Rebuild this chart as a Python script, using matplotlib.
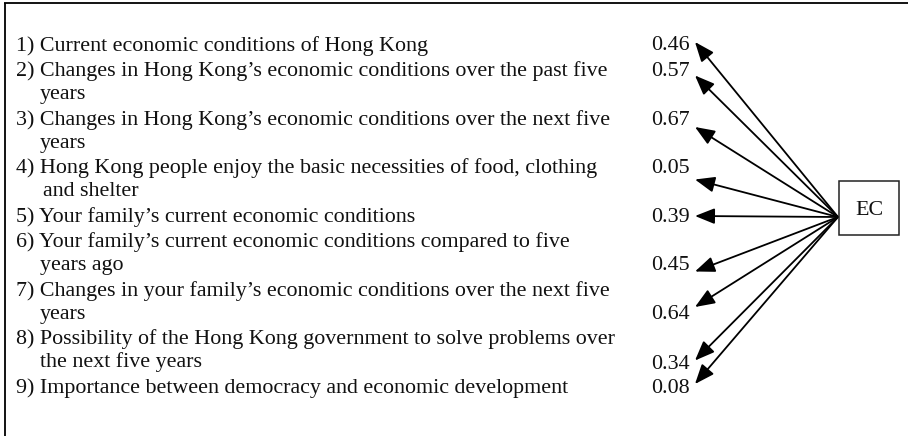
import matplotlib
matplotlib.use("Agg")
import matplotlib.pyplot as plt
from matplotlib.patches import FancyArrowPatch, Rectangle

# ---- data ----
item_lines = [
    ["1) Current economic conditions of Hong Kong"],
    ["2) Changes in Hong Kong\u2019s economic conditions over the past five", "years"],
    ["3) Changes in Hong Kong\u2019s economic conditions over the next five", "years"],
    ["4) Hong Kong people enjoy the basic necessities of food, clothing", "and shelter"],
    ["5) Your family\u2019s current economic conditions"],
    ["6) Your family\u2019s current economic conditions compared to five", "years ago"],
    ["7) Changes in your family\u2019s economic conditions over the next five", "years"],
    ["8) Possibility of the Hong Kong government to solve problems over", "the next five years"],
    ["9) Importance between democracy and economic development"],
]
loadings = [0.46, 0.57, 0.67, 0.05, 0.39, 0.45, 0.64, 0.34, 0.08]
latent = "EC"

# ---- layout (pixels) ----
W, H = 908, 436
value_line = [0, 0, 0, 0, 0, 1, 1, 1, 0]      # which text line the loading sits on
value_dy = [0, 0, 0, 0, 0, 0, 0, 2, 0]
tip_dy = [-4, 4, 7, 11, -1, 6, -7, -4, -4]
indent_x = [40, 40, 40, 43, 40, 40, 40, 40, 40]
x_text = 16
x_val = 651
x_tip = 695
y0, line_h, item_gap = 46, 23.0, 2.5
origin = (838, 217)

fig = plt.figure(figsize=(W / 100, H / 100), dpi=100)
ax = fig.add_axes([0, 0, 1, 1])
ax.set_xlim(0, W)
ax.set_ylim(H, 0)
ax.axis("off")

font = dict(family="Liberation Serif", fontsize=15.8, color="#111111")

# frame (top and left only)
ax.plot([4, W], [3.5, 3.5], color="black", lw=1.3, solid_capstyle="butt")
ax.plot([4.5, 4.5], [3, H], color="black", lw=1.3, solid_capstyle="butt")

y = y0
for i, lines in enumerate(item_lines):
    ys = []
    for j, ln in enumerate(lines):
        xx = x_text if j == 0 else indent_x[i]
        ax.text(xx, y, ln, va="center", ha="left", **font)
        ys.append(y)
        y += line_h
    y += item_gap
    vy = ys[value_line[i]] + value_dy[i]
    ax.text(x_val, vy, f"{loadings[i]:.2f}", va="center", ha="left", **font)
    arr = FancyArrowPatch(origin, (x_tip, vy + tip_dy[i]),
                          arrowstyle="-|>,head_length=0.75,head_width=0.3",
                          mutation_scale=16, color="black", lw=1.3,
                          shrinkA=0, shrinkB=0)
    ax.add_patch(arr)

ax.add_patch(Rectangle((839, 181), 60, 54, fill=False, ec="#222222", lw=1.1))
ax.text(869, 210, latent, va="center", ha="center", **font)

fig.savefig("out.png", dpi=100)
